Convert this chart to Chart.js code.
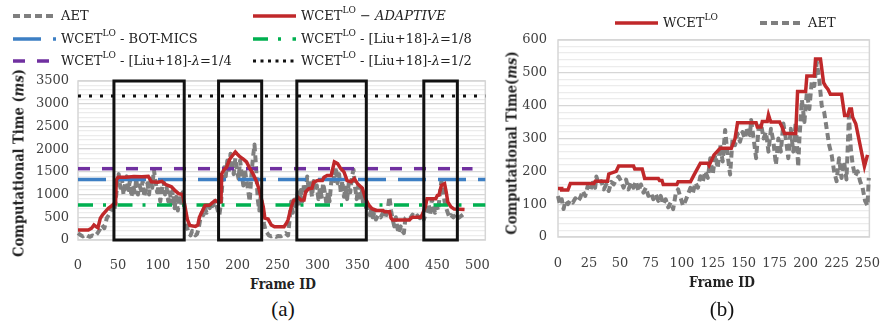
<!DOCTYPE html>
<html>
<head>
<meta charset="utf-8">
<script src="https://cdn.jsdelivr.net/npm/chart.js@4/dist/chart.umd.min.js"></script>
<style>
  body { margin: 0; background: #fff; width: 891px; height: 325px; position: relative; overflow: hidden; }
  canvas { position: absolute; top: 0; }
  .lg { position: absolute; font-family: "DejaVu Serif", serif; font-size: 13px; color: #222; white-space: nowrap; display: flex; align-items: center; }
  .lg svg { margin-right: 5px; }
  .lg sup { font-size: 9px; position: relative; top: -6px; vertical-align: baseline; line-height: 0; }
  .ytitle { position: absolute; transform: translate(-50%, -50%) rotate(-90deg); font-family: "DejaVu Serif Condensed", "DejaVu Serif", serif; font-weight: bold; font-size: 14.5px; color: #222; white-space: nowrap; }
  .xtitle { position: absolute; transform: translateX(-50%); font-family: "DejaVu Serif Condensed", "DejaVu Serif", serif; font-weight: bold; font-size: 14px; color: #222; }
  .cap { position: absolute; transform: translateX(-50%); font-family: "Liberation Serif", serif; font-size: 21px; color: #111; }
</style>
</head>
<body>
<canvas id="left" width="500" height="275" style="left:0"></canvas>
<canvas id="right" width="391" height="275" style="left:500px"></canvas>

<!-- legend (a) -->
<div class="lg" style="left:13px;top:8px"><svg width="43" height="6"><line x1="0" y1="3" x2="43" y2="3" stroke="#7f7f7f" stroke-width="4" stroke-dasharray="7 4"/></svg>AET</div>
<div class="lg" style="left:253px;top:8px"><svg width="43" height="6"><line x1="0" y1="3" x2="43" y2="3" stroke="#c0282a" stroke-width="3.5"/></svg>WCET<sup>LO</sup>&nbsp;−&nbsp;<i>ADAPTIVE</i></div>
<div class="lg" style="left:13px;top:31px"><svg width="43" height="6"><line x1="0" y1="3" x2="43" y2="3" stroke="#3d7fc4" stroke-width="3.5" stroke-dasharray="28 12"/></svg>WCET<sup>LO</sup>&nbsp;- BOT-MICS</div>
<div class="lg" style="left:253px;top:31px"><svg width="43" height="6"><line x1="0" y1="3" x2="43" y2="3" stroke="#00b050" stroke-width="3.5" stroke-dasharray="15 10 3 11.5"/></svg>WCET<sup>LO</sup>&nbsp;- [Liu+18]- <i>λ</i>=1/8</div>
<div class="lg" style="left:13px;top:53px"><svg width="43" height="6"><line x1="0" y1="3" x2="43" y2="3" stroke="#7030a0" stroke-width="3.5" stroke-dasharray="12 12"/></svg>WCET<sup>LO</sup>&nbsp;- [Liu+18]- <i>λ</i>=1/4</div>
<div class="lg" style="left:253px;top:53px"><svg width="43" height="6"><line x1="0" y1="3" x2="43" y2="3" stroke="#111" stroke-width="3" stroke-dasharray="3 4.5"/></svg>WCET<sup>LO</sup>&nbsp;- [Liu+18]- <i>λ</i>=1/2</div>

<!-- legend (b) -->
<div class="lg" style="left:615px;top:15px"><svg width="43" height="6"><line x1="0" y1="3" x2="43" y2="3" stroke="#c0282a" stroke-width="3.5"/></svg>WCET<sup>LO</sup></div>
<div class="lg" style="left:760px;top:15px"><svg width="43" height="6"><line x1="0" y1="3" x2="43" y2="3" stroke="#7f7f7f" stroke-width="4" stroke-dasharray="7 4"/></svg>AET</div>

<div class="ytitle" style="left:18px;top:163px">Computational Time (<i>ms</i>)</div>
<div class="ytitle" style="left:511px;top:143px">Computational Time(<i>ms</i>)</div>
<div class="xtitle" style="left:283px;top:276px">Frame ID</div>
<div class="xtitle" style="left:722px;top:274px">Frame ID</div>
<div class="cap" style="left:283px;top:297px">(a)</div>
<div class="cap" style="left:722px;top:297px">(b)</div>

<script>
// ---- chart (a): frame id vs time (ms) ----
const leftAet = [
  [0,150],[3,110],[6,80],[9,120],[12,90],[15,70],[18,100],[21,80],[24,140],[27,220],[30,330],[33,260],
  [36,480],[39,560],[42,700],[45,620],[47,830],[49,1200],[51,1450],[53,1150],[55,1350],[57,1000],[59,1250],
  [61,1400],[63,1100],[65,1300],[67,950],[69,1200],[71,1050],[73,1350],[75,1000],[77,1200],[79,1100],
  [81,1300],[83,950],[85,1150],[87,1250],[89,1000],[91,1350],[93,1150],[95,1550],[97,1300],[99,1050],
  [101,1200],[103,850],[105,1100],[107,1300],[109,1000],[111,1150],[113,850],[115,1050],[117,800],[119,1100],
  [121,700],[123,950],[125,650],[127,1000],[129,750],[131,1050],[133,800],[135,500],[137,250],[139,150],
  [141,100],[143,200],[145,150],[147,100],[149,130],[151,250],[153,450],[155,600],[157,550],[159,700],
  [161,600],[163,750],[165,700],[167,800],[169,750],[171,850],[173,800],[175,650],[177,550],[179,800],
  [181,1300],[183,1600],[185,1400],[187,1750],[189,1500],[191,1900],[193,1650],[195,1450],[197,1800],
  [199,1550],[201,1350],[203,1750],[205,1450],[207,1200],[209,1550],[211,1300],[213,1100],[215,850],
  [217,1400],[219,1800],[221,2100],[223,1600],[225,900],[227,650],[229,1000],[231,600],[233,350],[235,200],
  [237,150],[239,100],[242,80],[245,100],[248,70],[251,90],[254,80],[257,110],[260,150],[263,100],
  [265,450],[267,850],[269,600],[271,950],[273,700],[275,1050],[277,750],[279,1100],[281,850],[283,1250],
  [285,1000],[287,1400],[289,1100],[291,1250],[293,950],[295,1300],[297,1100],[299,1200],[301,900],
  [303,1150],[305,950],[307,1250],[309,1050],[311,800],[313,1050],[315,850],[317,1250],[319,1550],
  [321,1300],[323,1600],[325,1250],[327,1450],[329,1050],[331,1300],[333,950],[335,1150],[337,900],
  [339,1250],[341,1050],[343,1400],[345,1550],[347,1150],[349,900],[351,1200],[353,850],[355,1150],
  [357,800],[359,1000],[361,650],[363,750],[365,550],[367,650],[369,500],[371,600],[373,450],[376,550],
  [379,500],[382,600],[385,500],[388,700],[390,950],[392,650],[394,450],[396,300],[398,500],[400,250],
  [402,150],[404,300],[406,200],[408,150],[410,480],[413,520],[416,480],[419,560],[422,500],[425,540],
  [428,480],[431,560],[433,450],[435,550],[437,650],[439,800],[441,550],[443,900],[445,700],[447,600],
  [449,750],[451,650],[453,1000],[455,1300],[457,1100],[459,850],[461,700],[463,600],[465,500],[467,550],
  [470,500],[473,560],[476,480],[479,520],[482,560]
];
const leftWcet = [
  [0,220],[13,220],[17,260],[20,330],[23,290],[25,270],[28,480],[31,560],[34,620],[38,700],[42,750],
  [45,800],[47,800],[48,1320],[50,1380],[60,1380],[70,1400],[80,1390],[88,1400],[92,1280],[100,1270],
  [105,1290],[110,1220],[117,1170],[122,1080],[126,1020],[131,1000],[134,730],[137,450],[140,320],
  [147,300],[150,330],[152,500],[156,650],[159,760],[165,770],[168,820],[172,870],[176,830],[179,840],
  [180,1460],[183,1550],[186,1600],[190,1780],[193,1850],[197,1940],[199,1900],[203,1830],[207,1780],
  [211,1720],[215,1580],[219,1460],[223,1310],[227,1100],[232,730],[234,480],[238,460],[242,330],
  [246,290],[258,290],[261,370],[263,440],[267,730],[270,870],[273,880],[275,950],[279,880],[283,880],
  [285,1060],[289,1130],[293,1140],[295,1270],[300,1310],[306,1310],[308,1380],[312,1420],[317,1420],
  [321,1720],[325,1680],[329,1570],[333,1500],[337,1310],[342,1280],[346,1350],[350,1240],[356,1140],
  [360,910],[364,770],[368,690],[374,650],[382,650],[384,620],[390,620],[392,480],[394,440],[415,440],
  [417,480],[419,500],[429,500],[431,560],[435,730],[437,910],[448,910],[450,980],[452,990],[455,1200],
  [459,1240],[461,1060],[463,840],[467,730],[471,680],[484,670]
];
// constant WCET levels: [Liu+18] 1/2, [Liu+18] 1/4, BOT-MICS, [Liu+18] 1/8
const refLevels = [3170, 1570, 1330, 770];
const refEnds = [510, 494, 510, 510];
const refColors = ['#111111', '#7030a0', '#3d7fc4', '#00b050'];
const refDashes = [[3, 8], [12, 12], [28, 12], [15, 10, 3, 11.5]];
// highlighted frame windows
const boxStarts = [45, 176, 274, 433];
const boxEnds = [133, 230, 361, 475];
const boxTop = 3500;
const leftXTicks = [0, 50, 100, 150, 200, 250, 300, 350, 400, 450, 500];

// ---- chart (b) ----
const rightWcet = [
  [0,148],[3,148],[3,143],[8,143],[10,163],[29,163],[30,170],[40,170],[41,192],[47,200],[49,216],[61,216],
  [62,207],[68,207],[70,178],[81,178],[82,172],[84,172],[85,160],[96,160],[97,168],[107,168],[110,190],
  [115,225],[121,225],[122,218],[126,250],[131,270],[140,270],[143,300],[145,348],[160,348],[161,335],
  [164,335],[165,352],[169,352],[170,372],[171,360],[172,350],[179,350],[181,335],[183,315],[192,315],
  [193.5,443],[200,443],[201,490],[207,490],[208,542],[212,542],[214.5,470],[216,460],[218,450],[220,435],
  [229,435],[231.5,370],[234,370],[235.5,390],[237,390],[238,365],[240.5,345],[247.5,215],[250,250]
];
const rightAet = [
  [0,125],[1.5,100],[3,115],[4.5,85],[6,110],[8,100],[10,112],[12,105],[14,118],[16,108],[18,120],[20,140],
  [22,125],[24,155],[26,140],[28,165],[30,150],[31,184],[33,160],[35,170],[37,145],[39,160],[41,140],
  [43,168],[45,160],[47,175],[49,184],[51,170],[53,150],[55,175],[57,145],[59,165],[61,150],[63,170],
  [65,140],[67,160],[69,135],[71,150],[73,125],[75,135],[77,115],[79,130],[81,110],[83,125],[85,100],
  [87,115],[89,90],[91,105],[93,85],[95,130],[97,145],[99,120],[101,95],[103,110],[105,130],[107,150],
  [109,135],[111,165],[113,150],[115,185],[117,170],[119,200],[121,180],[123,240],[125,190],[127,250],
  [129,210],[131,280],[133,230],[135,326],[137,250],[139,190],[141,300],[143,280],[145,315],[147,290],
  [149,320],[151,300],[153,335],[155,310],[156,356],[158,300],[160,240],[162,330],[164,345],[166,300],
  [168,320],[170,260],[172,330],[174,290],[176,220],[178,300],[180,260],[182,346],[184,300],[186,240],
  [188,330],[190,260],[192,350],[194,214],[195,300],[197,418],[199,350],[201,440],[203,390],[205,475],
  [207,460],[209,533],[211,480],[213,400],[215,380],[217,330],[219,280],[221,250],[223,200],[225,170],
  [227,240],[229,180],[231,230],[233,175],[235,370],[236.5,270],[238,220],[240,185],[242,200],[244,170],
  [246,150],[248,110],[250,95],[251,180]
];
const rightXTicks = [0, 25, 50, 75, 100, 125, 150, 175, 200, 225, 250];

const toXY = pts => pts.map(([x, y]) => ({ x, y }));
const tickFont = { family: 'DejaVu Serif', size: 13 };
const tickColor = '#404040';

// light frame around the plot area
const frame = {
  id: 'frame',
  beforeDatasetsDraw(chart) {
    const { ctx, chartArea: a } = chart;
    ctx.save();
    ctx.strokeStyle = '#d6d6d6';
    ctx.lineWidth = 1.5;
    ctx.strokeRect(a.left, a.top, a.right - a.left, a.bottom - a.top);
    ctx.restore();
  }
};

const lineSet = (data, color, width, dash, extra) => Object.assign({
  data, borderColor: color, borderWidth: width, borderDash: dash || [],
  pointRadius: 0, fill: false, tension: 0, clip: 4
}, extra || {});
const aetStyle = { borderJoinStyle: 'round' };

function keepTicks(list) {
  return scale => { scale.ticks = list.map(v => ({ value: v })); };
}

// ---- build (a)
const leftSets = [];
boxStarts.forEach((s, i) => {
  const e = boxEnds[i];
  leftSets.push(lineSet(
    [{ x: s, y: 0 }, { x: s, y: boxTop }, { x: e, y: boxTop }, { x: e, y: 0 }, { x: s, y: 0 }],
    '#111111', 3, [], { borderJoinStyle: 'miter', borderCapStyle: 'square' }
  ));
});
leftSets.push(lineSet(toXY(leftWcet), '#c0282a', 3.5));
refLevels.forEach((lvl, i) => {
  leftSets.push(lineSet([{ x: 0, y: lvl }, { x: refEnds[i], y: lvl }], refColors[i], i === 0 ? 3 : 3.5, refDashes[i]));
});
leftSets.push(lineSet(toXY(leftAet), '#7f7f7f', 4, [7, 4], aetStyle));

new Chart(document.getElementById('left'), {
  type: 'line',
  data: { datasets: leftSets },
  options: {
    responsive: false, animation: false, devicePixelRatio: 1,
    layout: { padding: { top: 81, right: 14, left: 0, bottom: 0 } },
    plugins: { legend: { display: false }, tooltip: { enabled: false } },
    scales: {
      x: {
        type: 'linear', min: 0, max: 510,
        afterBuildTicks: keepTicks(leftXTicks),
        afterFit: s => { s.height = 35; },
        grid: { display: false }, border: { display: false },
        ticks: { font: tickFont, color: tickColor, padding: 10, maxRotation: 0, autoSkip: false }
      },
      y: {
        min: 0, max: 3500,
        afterFit: s => { s.width = 78; },
        border: { display: false },
        grid: { drawTicks: false, color: c => c.tick.value % 500 === 0 ? '#d6d6d6' : '#ececec', lineWidth: 1.3 },
        ticks: { stepSize: 100, font: tickFont, color: tickColor, padding: 9, autoSkip: false,
          callback: v => v % 500 === 0 ? v : '' }
      }
    }
  },
  plugins: [frame]
});

// ---- build (b)
new Chart(document.getElementById('right'), {
  type: 'line',
  data: {
    datasets: [
      lineSet(toXY(rightWcet), '#c0282a', 3.5),
      lineSet(toXY(rightAet), '#7f7f7f', 4, [7, 4], aetStyle)
    ]
  },
  options: {
    responsive: false, animation: false, devicePixelRatio: 1,
    layout: { padding: { top: 40, right: 11, left: 0, bottom: 0 } },
    plugins: { legend: { display: false }, tooltip: { enabled: false } },
    scales: {
      x: {
        type: 'linear', min: 0, max: 251.5,
        afterBuildTicks: keepTicks(rightXTicks),
        afterFit: s => { s.height = 38; },
        grid: { display: false }, border: { display: false },
        ticks: { font: tickFont, color: tickColor, padding: 11, maxRotation: 0, autoSkip: false }
      },
      y: {
        min: 0, max: 600,
        afterFit: s => { s.width = 58; },
        border: { display: false },
        grid: { drawTicks: false, color: c => c.tick.value % 100 === 0 ? '#d6d6d6' : '#ececec', lineWidth: 1.3 },
        ticks: { stepSize: 20, font: tickFont, color: tickColor, padding: 11, autoSkip: false,
          callback: v => v % 100 === 0 ? v : '' }
      }
    }
  },
  plugins: [frame]
});
</script>
</body>
</html>
